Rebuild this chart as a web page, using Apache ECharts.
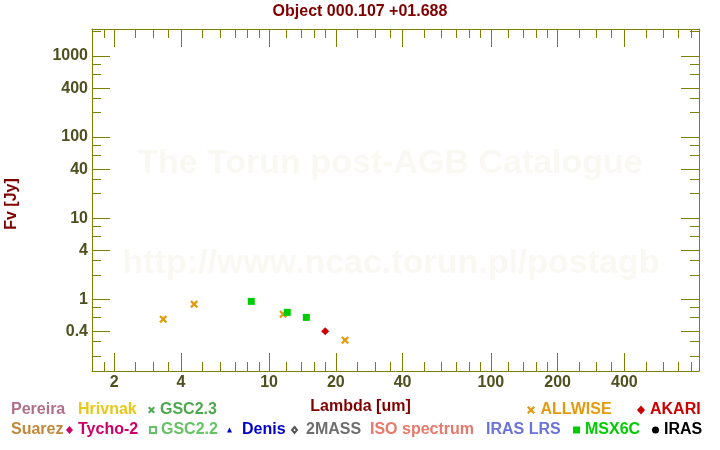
<!DOCTYPE html>
<html><head><meta charset="utf-8">
<script src="https://cdn.jsdelivr.net/npm/echarts@6/dist/echarts.min.js"></script>
<style>html,body{margin:0;padding:0;background:#fff}#c{width:720px;height:450px}</style>
</head><body><div id="c"></div>
<script>
// ---------- data ----------
const titleText = 'Object 000.107 +01.688';
const xName = 'Lambda [um]';
const yName = 'Fv [Jy]';
const watermark1 = 'The Torun post-AGB Catalogue';
const watermark2 = 'http://www.ncac.torun.pl/postagb';

const allwiseLambda = [3.33, 4.59, 11.57, 22.0];
const allwiseFlux   = [0.567, 0.868, 0.653, 0.312];
const msxLambda = [8.31, 12.08, 14.72];
const msxFlux   = [0.939, 0.688, 0.596];
const akariLambda = [17.9];
const akariFlux   = [0.403];

const xRange = [1.59, 868];
const yRange = [0.13, 2150];
const xLabelTicks = [2, 4, 10, 20, 40, 100, 200, 400];
const xMinorTicks = [1.8, 2.5, 3, 3.5, 5, 6, 7, 8, 9, 12, 14, 16, 18, 25, 30, 35, 50, 60, 70, 80, 90, 120, 140, 160, 180, 250, 300, 350, 500, 600, 700, 800];
const yLabelTicks = [0.4, 1, 4, 10, 40, 100, 400, 1000];
const yMinorTicks = [0.2, 0.3, 0.6, 0.8, 2, 3, 6, 8, 20, 30, 60, 80, 200, 300, 600, 800, 2000];

const legendRow1 = ['Pereira', 'Hrivnak', 'GSC2.3', 'ALLWISE', 'AKARI'];
const legendRow2 = ['Suarez', 'Tycho-2', 'GSC2.2', 'Denis', '2MASS', 'ISO spectrum', 'IRAS LRS', 'MSX6C', 'IRAS'];

// ---------- styles / layout ----------
const FONT = '"Liberation Sans", Arial, sans-serif';
const OLIVE = '#808000';
const LABEL = '#4f4f1f';
const DARKRED = '#800000';
const WM = '#faf8f2';
const X_PATH = 'path://M0,2L2,0L5,3L8,0L10,2L7,5L10,8L8,10L5,7L2,10L0,8L3,5Z';
const NONE = 'rgba(0,0,0,0)';

const legendStyle = {
  'Pereira':      {text: '#b27088', left: 5},
  'Hrivnak':      {text: '#e8c81a', left: 72},
  'GSC2.3':       {text: '#4fa84f', icon: X_PATH, color: '#4fa84f', left: 148, w: 7, h: 7},
  'ALLWISE':      {text: '#e39b0e', icon: X_PATH, color: '#e39b0e', left: 527, w: 9, h: 8},
  'AKARI':        {text: '#cc0000', icon: 'diamond', color: '#cc0000', left: 637, w: 8, h: 9},
  'Suarez':       {text: '#c0883c', left: 5},
  'Tycho-2':      {text: '#cc0066', icon: 'diamond', color: '#cc0066', left: 66, w: 7, h: 8},
  'GSC2.2':       {text: '#66c266', icon: 'emptyRect', color: '#66c266', left: 149, w: 6, h: 6},
  'Denis':        {text: '#0000cc', icon: 'triangle', color: '#0000cc', left: 227, w: 5, h: 5, pad: 5},
  '2MASS':        {text: '#6e6e6e', icon: 'emptyDiamond', color: '#555555', left: 291, w: 5, h: 6, pad: 4},
  'ISO spectrum': {text: '#e8796a', left: 364},
  'IRAS LRS':     {text: '#6b72d8', left: 480},
  'MSX6C':        {text: '#00cc00', icon: 'rect', color: '#00cc00', left: 573, w: 7, h: 7},
  'IRAS':         {text: '#000000', icon: 'circle', color: '#000000', left: 652, w: 7, h: 7}
};

const seriesData = {
  'ALLWISE': {lam: allwiseLambda, flux: allwiseFlux, symbol: X_PATH, size: 8},
  'MSX6C':   {lam: msxLambda, flux: msxFlux, symbol: 'rect', size: 7},
  'AKARI':   {lam: akariLambda, flux: akariFlux, symbol: 'diamond', size: 8}
};

const lg = Math.log10;
const fmt = v => String(+Math.pow(10, v).toPrecision(3));

function mkLegend(name, top) {
  const s = legendStyle[name];
  const ts = {fontFamily: FONT, fontWeight: 'bold', fontSize: 16, color: s.text};
  if (s.pad) ts.padding = [0, 0, 0, s.pad];
  return {
    left: s.left, top: top, padding: 0, itemGap: 0, selectedMode: false,
    itemWidth: s.w || 1, itemHeight: s.h || 1,
    textStyle: ts,
    data: [{name: name, icon: s.icon || 'rect', itemStyle: {color: s.color || NONE}}]
  };
}

const legends = legendRow1.map(n => mkLegend(n, 402)).concat(legendRow2.map(n => mkLegend(n, 422)));

const series = legendRow1.concat(legendRow2).map(name => {
  const s = legendStyle[name];
  const d = seriesData[name];
  return {
    name: name, type: 'scatter', xAxisIndex: 0, yAxisIndex: 0,
    symbol: d ? d.symbol : (s.icon || 'rect'),
    symbolSize: d ? d.size : 7,
    itemStyle: {color: s.color || NONE, opacity: 1},
    data: d ? d.lam.map((l, i) => [lg(l), lg(d.flux[i])]) : [],
    z: 5
  };
});

function axis(dim, position, showLine, ticks, len, labels) {
  const range = dim === 'x' ? xRange : yRange;
  const a = {
    type: 'value', position: position, gridIndex: 0,
    min: lg(range[0]), max: lg(range[1]),
    splitLine: {show: false}, minorTick: {show: false},
    axisLine: {show: showLine, onZero: false, lineStyle: {color: OLIVE, width: 1}},
    axisTick: {show: true, inside: true, length: len, customValues: ticks.map(lg), lineStyle: {color: OLIVE, width: 1}},
    axisLabel: {show: false}
  };
  if (labels) {
    a.axisLabel = {
      show: true, customValues: labels.map(lg), formatter: fmt,
      margin: 4, color: LABEL, fontFamily: FONT, fontWeight: 'bold', fontSize: 16
    };
  }
  return a;
}

const xAxes = [
  axis('x', 'bottom', true, xLabelTicks, 18, xLabelTicks),
  axis('x', 'top', true, xLabelTicks, 18, null),
  axis('x', 'bottom', false, xMinorTicks, 9, null),
  axis('x', 'top', false, xMinorTicks, 9, null)
];
Object.assign(xAxes[0], {
  name: xName, nameLocation: 'middle', nameGap: 28,
  nameTextStyle: {color: DARKRED, fontFamily: FONT, fontWeight: 'bold', fontSize: 16, padding: [0, 70, 0, 0]}
});
const yAxes = [
  axis('y', 'left', true, yLabelTicks, 18, yLabelTicks),
  axis('y', 'right', true, yLabelTicks, 18, null),
  axis('y', 'left', false, yMinorTicks, 9, null),
  axis('y', 'right', false, yMinorTicks, 9, null)
];
Object.assign(yAxes[0], {
  name: yName, nameLocation: 'middle', nameGap: 72,
  nameTextStyle: {color: DARKRED, fontFamily: FONT, fontWeight: 'bold', fontSize: 16, padding: [0, 8, 0, 0]}
});

const chart = echarts.init(document.getElementById('c'), null, {renderer: 'canvas'});
chart.setOption({
  animation: false,
  backgroundColor: '#ffffff',
  title: {
    text: titleText, left: 'center', top: 4, padding: 0,
    textStyle: {color: DARKRED, fontFamily: FONT, fontWeight: 'bold', fontSize: 16}
  },
  grid: {left: 92, top: 29, width: 607, height: 342, containLabel: false, outerBoundsMode: 'none'},
  xAxis: xAxes,
  yAxis: yAxes,
  legend: legends,
  graphic: [
    {type: 'text', x: 390, y: 164, z: -10, silent: true,
     style: {text: watermark1, fill: WM, fontFamily: FONT, fontWeight: 'bold', fontSize: 34, align: 'center', verticalAlign: 'middle'}},
    {type: 'text', x: 391, y: 264, z: -10, silent: true,
     style: {text: watermark2, fill: WM, fontFamily: FONT, fontWeight: 'bold', fontSize: 34, align: 'center', verticalAlign: 'middle'}}
  ],
  series: series
});
</script>
</body></html>
